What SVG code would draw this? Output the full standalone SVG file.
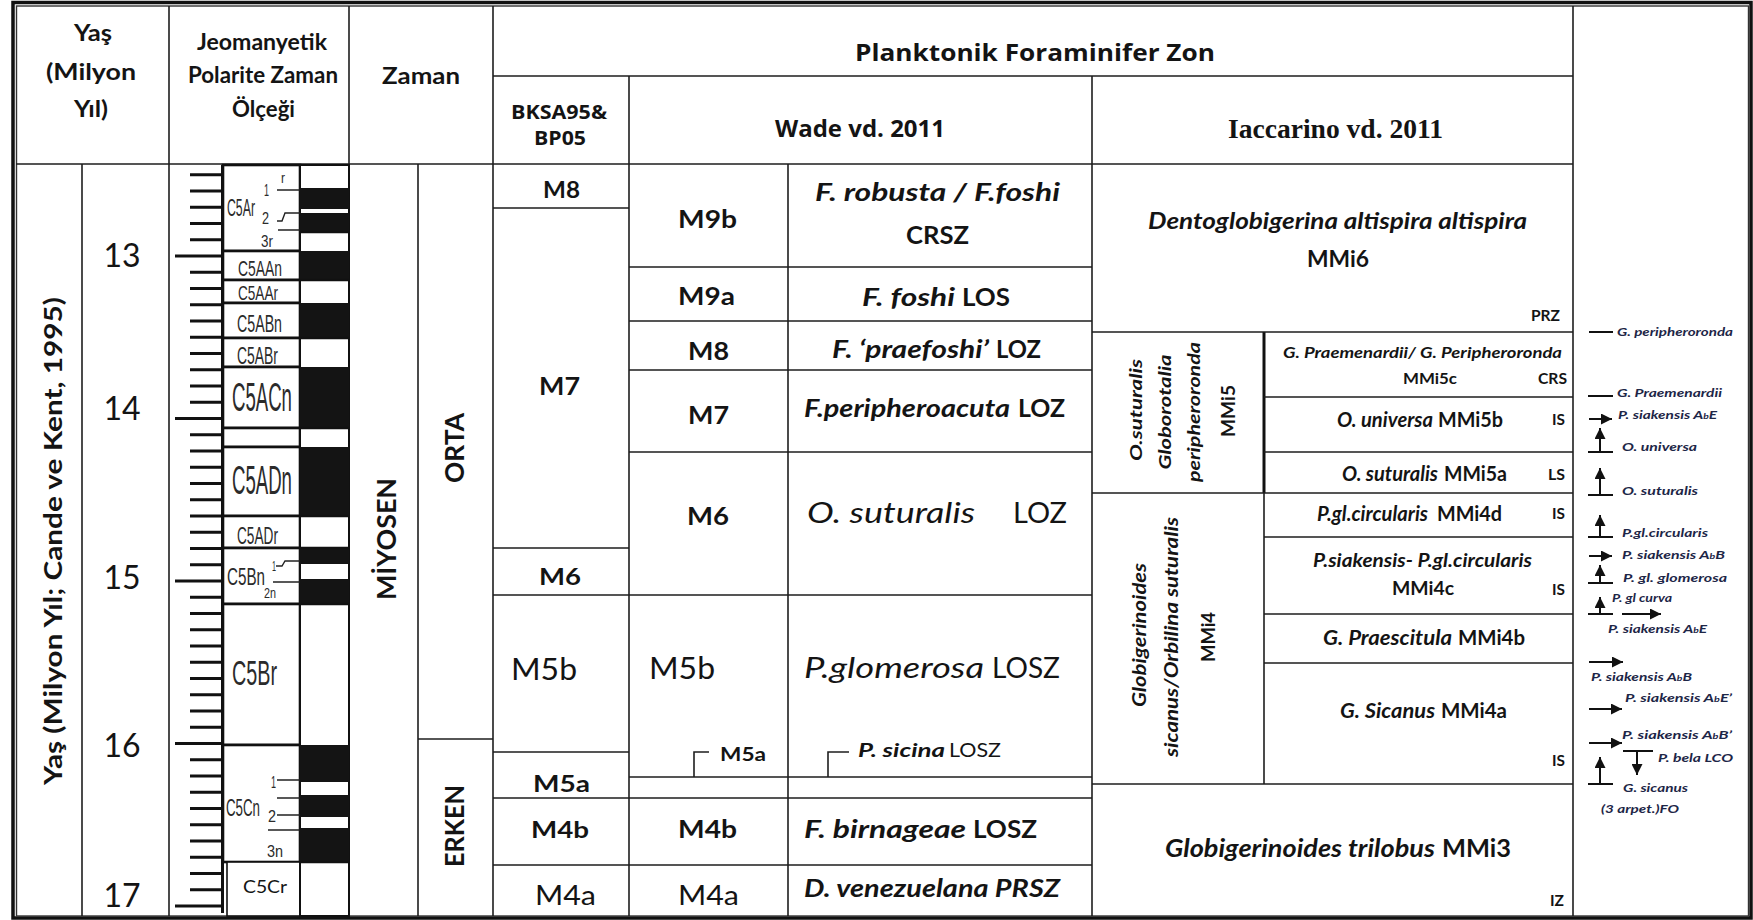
<svg xmlns="http://www.w3.org/2000/svg" width="1753" height="920" viewBox="0 0 1753 920">
<defs>
<style>
.ln{stroke:#1e1e1e;stroke-width:1.6;fill:none}
.tk{stroke:#111;stroke-width:3;fill:none}
.box{fill:#fff;stroke:#111;stroke-width:2.6}
.blk{fill:#141414}
text{fill:#141414}
.b{font-family:Lato,"Open Sans",sans-serif;font-weight:700}
.bi{font-family:Lato,"Open Sans",sans-serif;font-weight:700;font-style:italic}
.r{font-family:Lato,"Open Sans",sans-serif;font-weight:400}
.ri{font-family:Lato,"Open Sans",sans-serif;font-weight:400;font-style:italic}
.os{font-family:"Open Sans",Lato,sans-serif;font-weight:700}
.sf{font-family:"Liberation Serif",serif;font-weight:700}
.nr text{font-family:"Liberation Sans",Arial,sans-serif;fill:#2b2b2b}
.nt{font-family:Lato,sans-serif;font-weight:700;font-style:italic;fill:#1d2647;font-size:12px}
.ar{stroke:#111;stroke-width:2;fill:none}
</style>
<marker id="ah" viewBox="0 0 10 10" refX="10" refY="5" markerWidth="11" markerHeight="11" markerUnits="userSpaceOnUse" orient="auto"><path d="M0,0 L10,5 L0,10 z" fill="#111"/></marker>
</defs>
<rect width="1753" height="920" fill="#fff"/>

<g id="frame">
<rect x="13" y="2.5" width="1738" height="915.5" fill="none" stroke="#111" stroke-width="3.5"/>
<rect x="16.5" y="6" width="1732" height="910" fill="none" stroke="#333" stroke-width="1.4"/>
</g>

<g id="connectors">
<path class="ln" d="M493,76H1573 M16,164H1573 M169,6V916 M349,6V916 M493,6V916 M1573,6V916 M82,164V916 M418,164V916 M629,76V916 M788,164V916 M1092,76V916 M1264,493V784"/>
<path d="M1264,332V493" stroke="#111" stroke-width="3"/>
<path class="ln" d="M418,739H493"/>
<path class="ln" d="M493,208H629 M493,548H629 M493,595H629 M493,752H629 M493,798H629 M493,865H629"/>
<path class="ln" d="M629,267H1092 M629,321H1092 M629,370H1092 M629,452H1092 M629,595H1092 M629,777H1092 M629,798H1092 M629,865H1092"/>
<path class="ln" d="M1092,332H1573 M1092,493H1573 M1092,784H1573 M1264,397H1573 M1264,452H1573 M1264,537H1573 M1264,614H1573 M1264,663H1573"/>
<path class="ln" d="M694,777V752H709 M828,777V752H849"/>
</g>

<g id="hdr-yas">
<text class="b" font-size="23" x="74" y="41" textLength="38" lengthAdjust="spacingAndGlyphs">Yaş</text>
<text class="b" font-size="23" x="46" y="80" textLength="90" lengthAdjust="spacingAndGlyphs">(Milyon</text>
<text class="b" font-size="23" x="74" y="117" textLength="34" lengthAdjust="spacingAndGlyphs">Yıl)</text>
</g>
<g id="hdr-jeo">
<text class="b" font-size="22" x="197" y="50" textLength="130" lengthAdjust="spacingAndGlyphs">Jeomanyetik</text>
<text class="b" font-size="22" x="188" y="83" textLength="150" lengthAdjust="spacingAndGlyphs">Polarite Zaman</text>
<text class="b" font-size="22" x="232" y="117" textLength="63" lengthAdjust="spacingAndGlyphs">Ölçeği</text>
</g>
<g id="hdr-zaman">
<text class="b" font-size="23" x="382" y="84" textLength="78" lengthAdjust="spacingAndGlyphs">Zaman</text>
</g>
<g id="hdr-plank">
<text class="os" font-size="23" x="855" y="61" textLength="360" lengthAdjust="spacingAndGlyphs">Planktonik Foraminifer Zon</text>
</g>
<g id="hdr-bksa">
<text class="os" font-size="20" x="511" y="119" textLength="96" lengthAdjust="spacingAndGlyphs">BKSA95&amp;</text>
<text class="os" font-size="20" x="534" y="145" textLength="52" lengthAdjust="spacingAndGlyphs">BP05</text>
</g>
<g id="hdr-wade">
<text class="os" font-size="23" x="775" y="137" textLength="170" lengthAdjust="spacingAndGlyphs">Wade vd. 2011</text>
</g>
<g id="hdr-iacc">
<text class="sf" font-size="27" x="1228" y="138" textLength="215" lengthAdjust="spacingAndGlyphs">Iaccarino vd. 2011</text>
</g>

<g id="age-axis">
<text class="b" font-size="24" text-anchor="middle" transform="translate(62,541) rotate(-90)" textLength="488" lengthAdjust="spacingAndGlyphs">Yaş (Milyon Yıl; Cande ve Kent, 1995)</text>
<text class="r" font-size="32" x="122" y="267" text-anchor="middle">13</text>
<text class="r" font-size="32" x="122" y="420" text-anchor="middle">14</text>
<text class="r" font-size="32" x="122" y="589" text-anchor="middle">15</text>
<text class="r" font-size="32" x="122" y="757" text-anchor="middle">16</text>
<text class="r" font-size="32" x="122" y="907" text-anchor="middle">17</text>
</g>

<g id="polarity">
<path class="tk" d="M190,174.8H222 M190,191H222 M190,207.3H222 M190,223.5H222 M190,239.8H222 M190,272.3H222 M190,288.5H222 M190,304.8H222 M190,321H222 M190,337.3H222 M190,353.5H222 M190,369.8H222 M190,386H222 M190,402.3H222 M190,434.8H222 M190,451H222 M190,467.3H222 M190,483.5H222 M190,499.8H222 M190,516H222 M190,532.3H222 M190,548.5H222 M190,564.8H222 M190,597.3H222 M190,613.5H222 M190,629.8H222 M190,646H222 M190,662.3H222 M190,678.5H222 M190,694.8H222 M190,711H222 M190,727.3H222 M190,759.8H222 M190,776H222 M190,792.3H222 M190,808.5H222 M190,824.8H222 M190,841H222 M190,857.3H222 M190,873.5H222 M190,889.8H222"/>
<path class="tk" d="M175,256H222 M175,418.5H222 M175,581H222 M175,743.5H222 M175,906H222"/>
<path class="tk" d="M222.5,165V913"/>
<rect class="box" x="223" y="165" width="77" height="86"/>
<rect class="box" x="223" y="251" width="77" height="29"/>
<rect class="box" x="223" y="280" width="77" height="23"/>
<rect class="box" x="223" y="303" width="77" height="35"/>
<rect class="box" x="223" y="338" width="77" height="29"/>
<rect class="box" x="223" y="367" width="77" height="61"/>
<rect class="box" x="223" y="428" width="77" height="19"/>
<rect class="box" x="223" y="447" width="77" height="69"/>
<rect class="box" x="223" y="516" width="77" height="32"/>
<rect class="box" x="223" y="548" width="77" height="56"/>
<rect class="box" x="223" y="604" width="77" height="141"/>
<rect class="box" x="223" y="745" width="77" height="117"/>
<rect x="227" y="862" width="73" height="54" fill="#fff" stroke="#111" stroke-width="1.6"/>
<rect x="300" y="165" width="49" height="751" fill="#fff" stroke="#111" stroke-width="2"/>
<path class="blk" d="M300,188H349V209H300Z M300,213H349V232H300Z M300,251H349V280H300Z M300,303H349V338H300Z M300,367H349V428H300Z M300,447H349V516H300Z M300,548H349V564H300Z M300,579H349V604H300Z M300,745H349V782H300Z M300,795H349V817H300Z M300,828H349V862H300Z"/>
<path d="M300,232H349 M300,280H349 M300,338H349 M300,428H349 M300,516H349 M300,548H349 M300,604H349 M300,862H349" stroke="#111" stroke-width="2.4"/>
<path d="M277,190H300 M277,221H282L285,213H300 M278,230H300 M276,566H282L285,561H300 M273,582H300 M277,780H300 M277,798H300 M277,815H300 M268,830H300" stroke="#222" stroke-width="1.4" fill="none"/>
<g class="nr">
<text font-size="24" transform="translate(227,216) scale(0.512,1)">C5Ar</text>
<text font-size="17" transform="translate(264,196) scale(0.53,1)">1</text>
<text font-size="14" transform="translate(281,183) scale(0.86,1)">r</text>
<text font-size="16" transform="translate(262,224) scale(0.79,1)">2</text>
<text font-size="16" transform="translate(261,247) scale(0.84,1)">3r</text>
<text font-size="22" transform="translate(238,276) scale(0.631,1)">C5AAn</text>
<text font-size="20" transform="translate(238,300) scale(0.679,1)">C5AAr</text>
<text font-size="24" transform="translate(237,332) scale(0.592,1)">C5ABn</text>
<text font-size="24" transform="translate(237,364) scale(0.58,1)">C5ABr</text>
<text font-size="40" transform="translate(232,411) scale(0.465,1)">C5ACn</text>
<text font-size="40" transform="translate(232,494) scale(0.465,1)">C5ADn</text>
<text font-size="24" transform="translate(237,544) scale(0.569,1)">C5ADr</text>
<text font-size="24" transform="translate(227,585) scale(0.633,1)">C5Bn</text>
<text font-size="15" transform="translate(272,571) scale(0.48,1)">1</text>
<text font-size="15" transform="translate(264,598) scale(0.72,1)">2n</text>
<text font-size="36" transform="translate(232,685) scale(0.549,1)">C5Br</text>
<text font-size="24" transform="translate(226,816) scale(0.555,1)">C5Cn</text>
<text font-size="17" transform="translate(271,788) scale(0.53,1)">1</text>
<text font-size="16" transform="translate(268,822) scale(0.9,1)">2</text>
<text font-size="17" transform="translate(267,857) scale(0.85,1)">3n</text>
</g>
<text class="r" font-size="17" x="243" y="893" textLength="44" lengthAdjust="spacingAndGlyphs">C5Cr</text>
</g>

<g id="zaman">
<text class="b" font-size="26" text-anchor="middle" transform="translate(396,539) rotate(-90)" textLength="122" lengthAdjust="spacingAndGlyphs">MİYOSEN</text>
<text class="b" font-size="26" text-anchor="middle" transform="translate(464,448) rotate(-90)" textLength="70" lengthAdjust="spacingAndGlyphs">ORTA</text>
<text class="b" font-size="26" text-anchor="middle" transform="translate(464,826) rotate(-90)" textLength="82" lengthAdjust="spacingAndGlyphs">ERKEN</text>
</g>

<g id="bksa">
<text class="b" font-size="23" x="543" y="198" textLength="37" lengthAdjust="spacingAndGlyphs">M8</text>
<text class="b" font-size="25" x="539" y="395" textLength="41" lengthAdjust="spacingAndGlyphs">M7</text>
<text class="b" font-size="23" x="539" y="585" textLength="42" lengthAdjust="spacingAndGlyphs">M6</text>
<text class="r" font-size="30" x="511" y="680" textLength="66" lengthAdjust="spacingAndGlyphs">M5b</text>
<text class="b" font-size="23" x="533" y="792" textLength="57" lengthAdjust="spacingAndGlyphs">M5a</text>
<text class="b" font-size="23" x="531" y="838" textLength="58" lengthAdjust="spacingAndGlyphs">M4b</text>
<text class="r" font-size="26" x="535" y="905" textLength="61" lengthAdjust="spacingAndGlyphs">M4a</text>
</g>

<g id="wade-zones">
<text class="b" font-size="25" x="678" y="228" textLength="59" lengthAdjust="spacingAndGlyphs">M9b</text>
<text class="b" font-size="25" x="678" y="305" textLength="57" lengthAdjust="spacingAndGlyphs">M9a</text>
<text class="b" font-size="25" x="688" y="360" textLength="41" lengthAdjust="spacingAndGlyphs">M8</text>
<text class="b" font-size="25" x="688" y="424" textLength="41" lengthAdjust="spacingAndGlyphs">M7</text>
<text class="b" font-size="25" x="687" y="525" textLength="42" lengthAdjust="spacingAndGlyphs">M6</text>
<text class="r" font-size="30" x="649" y="679" textLength="66" lengthAdjust="spacingAndGlyphs">M5b</text>
<text class="b" font-size="19" x="720" y="761" textLength="46" lengthAdjust="spacingAndGlyphs">M5a</text>
<text class="b" font-size="25" x="678" y="838" textLength="59" lengthAdjust="spacingAndGlyphs">M4b</text>
<text class="r" font-size="26" x="678" y="905" textLength="61" lengthAdjust="spacingAndGlyphs">M4a</text>
</g>

<g id="wade-species">
<text class="bi" font-size="24" x="815" y="201" textLength="245" lengthAdjust="spacingAndGlyphs">F. robusta / F.foshi</text>
<text class="b" font-size="24" x="906" y="244" textLength="63" lengthAdjust="spacingAndGlyphs">CRSZ</text>
<text class="bi" font-size="24" x="862" y="306" textLength="93" lengthAdjust="spacingAndGlyphs">F. foshi</text>
<text class="b" font-size="24" x="962" y="306" textLength="48" lengthAdjust="spacingAndGlyphs">LOS</text>
<text class="bi" font-size="24" x="832" y="358" textLength="157" lengthAdjust="spacingAndGlyphs">F. ‘praefoshi’</text>
<text class="b" font-size="24" x="996" y="358" textLength="45" lengthAdjust="spacingAndGlyphs">LOZ</text>
<text class="bi" font-size="24" x="804" y="417" textLength="206" lengthAdjust="spacingAndGlyphs">F.peripheroacuta</text>
<text class="b" font-size="24" x="1018" y="417" textLength="47" lengthAdjust="spacingAndGlyphs">LOZ</text>
<text class="ri" font-size="28" x="807" y="523" textLength="168" lengthAdjust="spacingAndGlyphs">O. suturalis</text>
<text class="r" font-size="28" x="1013" y="523" textLength="54" lengthAdjust="spacingAndGlyphs">LOZ</text>
<text class="ri" font-size="28" x="804" y="678" textLength="180" lengthAdjust="spacingAndGlyphs">P.glomerosa</text>
<text class="r" font-size="28" x="992" y="678" textLength="68" lengthAdjust="spacingAndGlyphs">LOSZ</text>
<text class="bi" font-size="19" x="858" y="757" textLength="87" lengthAdjust="spacingAndGlyphs">P. sicina</text>
<text class="r" font-size="19" x="949" y="757" textLength="52" lengthAdjust="spacingAndGlyphs">LOSZ</text>
<text class="bi" font-size="24" x="804" y="838" textLength="162" lengthAdjust="spacingAndGlyphs">F. birnageae</text>
<text class="b" font-size="24" x="973" y="838" textLength="64" lengthAdjust="spacingAndGlyphs">LOSZ</text>
<text class="bi" font-size="24" x="804" y="897" textLength="256" lengthAdjust="spacingAndGlyphs">D. venezuelana PRSZ</text>
</g>

<g id="iacc-mmi6">
<text class="bi" font-size="23" x="1148" y="229" textLength="379" lengthAdjust="spacingAndGlyphs">Dentoglobigerina altispira altispira</text>
<text class="b" font-size="23" x="1307" y="267" textLength="62" lengthAdjust="spacingAndGlyphs">MMi6</text>
<text class="b" font-size="15" x="1531" y="321" textLength="29" lengthAdjust="spacingAndGlyphs">PRZ</text>
</g>
<g id="iacc-mmi5">
<text class="bi" font-size="17" text-anchor="middle" transform="translate(1142,410) rotate(-90)" textLength="102" lengthAdjust="spacingAndGlyphs">O.suturalis</text>
<text class="bi" font-size="17" text-anchor="middle" transform="translate(1171,412) rotate(-90)" textLength="115" lengthAdjust="spacingAndGlyphs">Globorotalia</text>
<text class="bi" font-size="17" text-anchor="middle" transform="translate(1200,412) rotate(-90)" textLength="140" lengthAdjust="spacingAndGlyphs">peripheroronda</text>
<text class="b" font-size="18" text-anchor="middle" transform="translate(1235,411) rotate(-90)" textLength="52" lengthAdjust="spacingAndGlyphs">MMi5</text>
<text class="bi" font-size="15" x="1283" y="358" textLength="279" lengthAdjust="spacingAndGlyphs">G. Praemenardii/ G. Peripheroronda</text>
<text class="b" font-size="15" x="1403" y="384" textLength="54" lengthAdjust="spacingAndGlyphs">MMi5c</text>
<text class="b" font-size="15" x="1538" y="384" textLength="29" lengthAdjust="spacingAndGlyphs">CRS</text>
<text class="bi" font-size="20" x="1337" y="427" textLength="96" lengthAdjust="spacingAndGlyphs">O. universa</text>
<text class="b" font-size="20" x="1438" y="427" textLength="65" lengthAdjust="spacingAndGlyphs">MMi5b</text>
<text class="b" font-size="15" x="1552" y="425" textLength="13" lengthAdjust="spacingAndGlyphs">IS</text>
<text class="bi" font-size="20" x="1342" y="481" textLength="96" lengthAdjust="spacingAndGlyphs">O. suturalis</text>
<text class="b" font-size="20" x="1444" y="481" textLength="63" lengthAdjust="spacingAndGlyphs">MMi5a</text>
<text class="b" font-size="15" x="1548" y="480" textLength="17" lengthAdjust="spacingAndGlyphs">LS</text>
</g>
<g id="iacc-mmi4">
<text class="bi" font-size="18" text-anchor="middle" transform="translate(1146,635) rotate(-90)" textLength="144" lengthAdjust="spacingAndGlyphs">Globigerinoides</text>
<text class="bi" font-size="18" text-anchor="middle" transform="translate(1178,637) rotate(-90)" textLength="240" lengthAdjust="spacingAndGlyphs">sicanus/Orbilina suturalis</text>
<text class="b" font-size="19" text-anchor="middle" transform="translate(1215,637) rotate(-90)" textLength="50" lengthAdjust="spacingAndGlyphs">MMi4</text>
<text class="bi" font-size="20" x="1317" y="521" textLength="111" lengthAdjust="spacingAndGlyphs">P.gl.circularis</text>
<text class="b" font-size="20" x="1437" y="521" textLength="65" lengthAdjust="spacingAndGlyphs">MMi4d</text>
<text class="b" font-size="15" x="1552" y="519" textLength="13" lengthAdjust="spacingAndGlyphs">IS</text>
<text class="bi" font-size="19" x="1313" y="567" textLength="219" lengthAdjust="spacingAndGlyphs">P.siakensis- P.gl.circularis</text>
<text class="b" font-size="19" x="1392" y="595" textLength="62" lengthAdjust="spacingAndGlyphs">MMi4c</text>
<text class="b" font-size="15" x="1552" y="595" textLength="13" lengthAdjust="spacingAndGlyphs">IS</text>
<text class="bi" font-size="20" x="1323" y="645" textLength="129" lengthAdjust="spacingAndGlyphs">G. Praescitula</text>
<text class="b" font-size="20" x="1458" y="645" textLength="67" lengthAdjust="spacingAndGlyphs">MMi4b</text>
<text class="bi" font-size="20" x="1340" y="718" textLength="95" lengthAdjust="spacingAndGlyphs">G. Sicanus</text>
<text class="b" font-size="20" x="1441" y="718" textLength="66" lengthAdjust="spacingAndGlyphs">MMi4a</text>
<text class="b" font-size="15" x="1552" y="766" textLength="13" lengthAdjust="spacingAndGlyphs">IS</text>
</g>
<g id="iacc-mmi3">
<text class="bi" font-size="24" x="1165" y="857" textLength="270" lengthAdjust="spacingAndGlyphs">Globigerinoides trilobus</text>
<text class="b" font-size="24" x="1442" y="857" textLength="69" lengthAdjust="spacingAndGlyphs">MMi3</text>
<text class="b" font-size="15" x="1550" y="906" textLength="14" lengthAdjust="spacingAndGlyphs">IZ</text>
</g>

<g id="events">
<path class="ar" d="M1589,332H1613 M1588,396H1613 M1588,452H1613 M1588,495H1613 M1588,537H1613 M1588,583H1613 M1588,614H1613 M1623,751H1653 M1588,784H1613"/>
<path class="ar" marker-end="url(#ah)" d="M1589,419H1612"/>
<path class="ar" marker-end="url(#ah)" d="M1600,452V428"/>
<path class="ar" marker-end="url(#ah)" d="M1600,495V468"/>
<path class="ar" marker-end="url(#ah)" d="M1600,537V515"/>
<path class="ar" marker-end="url(#ah)" d="M1589,556H1612"/>
<path class="ar" marker-end="url(#ah)" d="M1600,583V565"/>
<path class="ar" marker-end="url(#ah)" d="M1600,614V597"/>
<path class="ar" marker-end="url(#ah)" d="M1622,614H1661"/>
<path class="ar" marker-end="url(#ah)" d="M1589,662H1623"/>
<path class="ar" marker-end="url(#ah)" d="M1589,709H1622"/>
<path class="ar" marker-end="url(#ah)" d="M1589,743H1622"/>
<path class="ar" marker-end="url(#ah)" d="M1637,751V775"/>
<path class="ar" marker-end="url(#ah)" d="M1600,784V757"/>
<text class="nt" x="1617" y="336" textLength="116" lengthAdjust="spacingAndGlyphs">G. peripheroronda</text>
<text class="nt" x="1617" y="397" textLength="105" lengthAdjust="spacingAndGlyphs">G. Praemenardii</text>
<text class="nt" x="1618" y="419" textLength="99" lengthAdjust="spacingAndGlyphs">P. siakensis A<tspan font-size="8">b</tspan>E</text>
<text class="nt" x="1622" y="451" textLength="75" lengthAdjust="spacingAndGlyphs">O. universa</text>
<text class="nt" x="1622" y="495" textLength="76" lengthAdjust="spacingAndGlyphs">O. suturalis</text>
<text class="nt" x="1622" y="537" textLength="86" lengthAdjust="spacingAndGlyphs">P.gl.circularis</text>
<text class="nt" x="1622" y="559" textLength="103" lengthAdjust="spacingAndGlyphs">P. siakensis A<tspan font-size="8">b</tspan>B</text>
<text class="nt" x="1623" y="582" textLength="104" lengthAdjust="spacingAndGlyphs">P. gl. glomerosa</text>
<text class="nt" font-size="10" x="1612" y="602" textLength="60" lengthAdjust="spacingAndGlyphs">P. gl curva</text>
<text class="nt" x="1608" y="633" textLength="99" lengthAdjust="spacingAndGlyphs">P. siakensis A<tspan font-size="8">b</tspan>E</text>
<text class="nt" x="1591" y="681" textLength="101" lengthAdjust="spacingAndGlyphs">P. siakensis A<tspan font-size="8">b</tspan>B</text>
<text class="nt" x="1625" y="702" textLength="107" lengthAdjust="spacingAndGlyphs">P. siakensis A<tspan font-size="8">b</tspan>E’</text>
<text class="nt" x="1622" y="739" textLength="110" lengthAdjust="spacingAndGlyphs">P. siakensis A<tspan font-size="8">b</tspan>B’</text>
<text class="nt" x="1658" y="762" textLength="75" lengthAdjust="spacingAndGlyphs">P. bela LCO</text>
<text class="nt" x="1623" y="792" textLength="65" lengthAdjust="spacingAndGlyphs">G. sicanus</text>
<text class="nt" x="1601" y="813" textLength="78" lengthAdjust="spacingAndGlyphs">(3 arpet.)FO</text>
</g>
</svg>
